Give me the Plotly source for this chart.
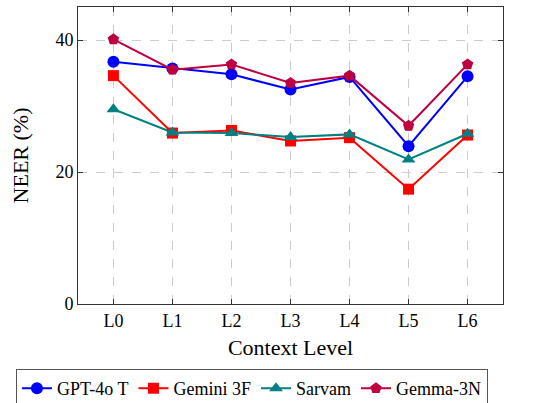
import plotly.graph_objects as go

categories = ["L0", "L1", "L2", "L3", "L4", "L5", "L6"]
gpt4o_t = [36.7, 35.7, 34.8, 32.5, 34.4, 23.9, 34.5]
gemini_3f = [34.6, 25.9, 26.3, 24.7, 25.2, 17.4, 25.6]
sarvam = [29.5, 26.0, 25.9, 25.3, 25.7, 21.9, 25.8]
gemma_3n = [40.1, 35.5, 36.3, 33.5, 34.6, 27.0, 36.3]
y_ticks = [0, 20, 40]

series = [
    ("GPT-4o T", gpt4o_t, "#0000ff", "circle", 12),
    ("Gemini 3F", gemini_3f, "#ff0000", "square", 11),
    ("Sarvam", sarvam, "#008080", "triangle-up", 12),
    ("Gemma-3N", gemma_3n, "#bf0040", "pentagon", 12),
]

fig = go.Figure()
for name, vals, color, sym, size in series:
    fig.add_trace(go.Scatter(
        x=list(range(len(categories))), y=vals, name=name, mode="lines+markers",
        line=dict(color=color, width=2),
        marker=dict(symbol=sym, size=size, color=color),
    ))

font = "Liberation Serif, Times New Roman, serif"
fig.update_layout(
    width=559, height=403,
    margin=dict(l=78, r=56, t=7, b=99, autoexpand=False),
    plot_bgcolor="white", paper_bgcolor="white",
    font=dict(family=font, size=18, color="black"),
    showlegend=True,
    legend=dict(
        orientation="h", x=-0.146, y=-0.219, xanchor="left", yanchor="top",
        bordercolor="#555555", borderwidth=1, font=dict(size=18, family=font),
        tracegroupgap=0,
    ),
    xaxis=dict(
        range=[-0.6, 6.6], tickmode="array", tickvals=list(range(len(categories))),
        ticktext=categories, showline=True, linecolor="#333333", linewidth=1, mirror="ticks",
        ticks="inside", ticklen=5, tickcolor="#333333",
        showgrid=True, gridcolor="#cccccc", griddash="dash", gridwidth=1,
        zeroline=False, title=dict(text="Context Level", standoff=10),
        automargin=False,
    ),
    yaxis=dict(
        range=[0, 45], tickmode="array", tickvals=y_ticks,
        showline=True, linecolor="#333333", linewidth=1, mirror="ticks",
        ticks="inside", ticklen=5, tickcolor="#333333",
        showgrid=True, gridcolor="#cccccc", griddash="dash", gridwidth=1,
        zeroline=False, title=dict(text="NEER (%)", standoff=20),
        automargin=False,
    ),
)
fig.write_html("out.html", config={"displayModeBar": False},
               post_script="document.body.style.margin='0';")
